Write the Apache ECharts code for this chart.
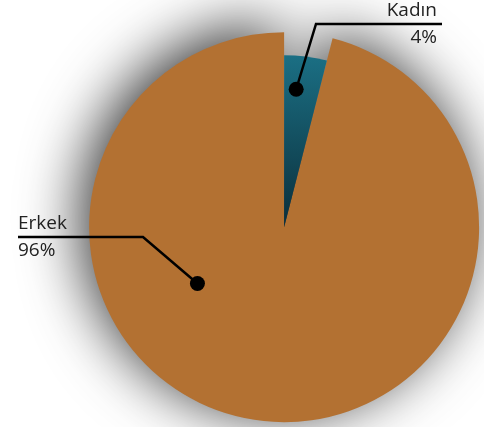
<!DOCTYPE html>
<html>
<head>
<meta charset="utf-8">
<script src="https://cdn.jsdelivr.net/npm/echarts@6/dist/echarts.min.js"></script>
<style>
html,body{margin:0;padding:0;background:#fff;}
#chart{width:484px;height:427px;}
</style>
</head>
<body>
<div id="chart"></div>
<script>
// ---- data ----
const categories = ['Kadın', 'Erkek'];
const values = [4, 96];
const colors = ['#1b6f84', '#b37132'];

// ---- layout (style constants) ----
const chart = echarts.init(document.getElementById('chart'));
const W = chart.getWidth(), H = chart.getHeight();
const CX = W * 0.587, CY = H * 0.532;
const R_OUT = 195, R_IN = 172;
// anchor of each label line: angle (deg clockwise from top) and radius fraction
const anchors = [
  { ang: 5, rf: 0.71, elbow: [316, 24], end: [442, 24], align: 'right' },
  { ang: 237, rf: 0.53, elbow: [143, 237], end: [18, 237], align: 'left' }
];
function anchorPoint(a) {
  const t = a.ang * Math.PI / 180;
  return [CX + Math.sin(t) * R_OUT * a.rf, CY - Math.cos(t) * R_OUT * a.rf];
}

const brownData = categories.map((c, i) => ({
  name: c, value: values[i],
  itemStyle: i === 1 ? {
    color: colors[1],
    shadowBlur: 60, shadowColor: 'rgba(0,0,0,0.8)', shadowOffsetX: -8, shadowOffsetY: -8
  } : { color: 'rgba(0,0,0,0)' }
}));
const tealData = categories.map((c, i) => ({
  name: c, value: values[i],
  itemStyle: i === 0 ? {
    color: new echarts.graphic.LinearGradient(0, 0, 0, 1, [
      { offset: 0, color: '#1b6f84' },
      { offset: 1, color: '#0b2f3b' }
    ])
  } : { color: 'rgba(0,0,0,0)' }
}));
const labelData = categories.map((c, i) => ({
  name: c, value: values[i], itemStyle: { color: 'rgba(0,0,0,0)' }
}));

const pieBase = {
  type: 'pie',
  silent: true,
  center: [CX, CY],
  startAngle: 90,
  clockwise: true,
  emphasis: { disabled: true }
};

const option = {
  animation: false,
  backgroundColor: '#ffffff',
  series: [
    Object.assign({}, pieBase, {
      z: 1, radius: [0, R_OUT],
      label: { show: false }, labelLine: { show: false },
      data: brownData
    }),
    Object.assign({}, pieBase, {
      z: 2, radius: [0, R_IN],
      label: { show: false }, labelLine: { show: false },
      data: tealData
    }),
    Object.assign({}, pieBase, {
      z: 3, radius: [0, R_OUT],
      label: {
        show: true,
        formatter: '{n|{b}}\n{p|{d}%}',
        color: '#222',
        fontFamily: 'Open Sans',
        rich: {
          n: { fontSize: 19, lineHeight: 27, fontFamily: 'Open Sans', color: '#222' },
          p: { fontSize: 19, lineHeight: 27, fontFamily: 'Open Sans', color: '#222' }
        }
      },
      labelLine: { show: true, lineStyle: { color: '#000', width: 2.5 } },
      labelLayout: function (params) {
        const a = anchors[params.dataIndex];
        const p0 = anchorPoint(a);
        return {
          x: a.align === 'right' ? a.end[0] - 5 : a.end[0],
          y: a.end[1],
          align: a.align,
          verticalAlign: 'middle',
          labelLinePoints: [p0, a.elbow.slice(), a.end.slice()]
        };
      },
      data: labelData
    })
  ],
  graphic: anchors.map(a => {
    const p = anchorPoint(a);
    return { type: 'circle', z: 100, shape: { cx: p[0], cy: p[1], r: 7.5 }, style: { fill: '#000' }, silent: true };
  })
};
chart.setOption(option);
</script>
</body>
</html>
